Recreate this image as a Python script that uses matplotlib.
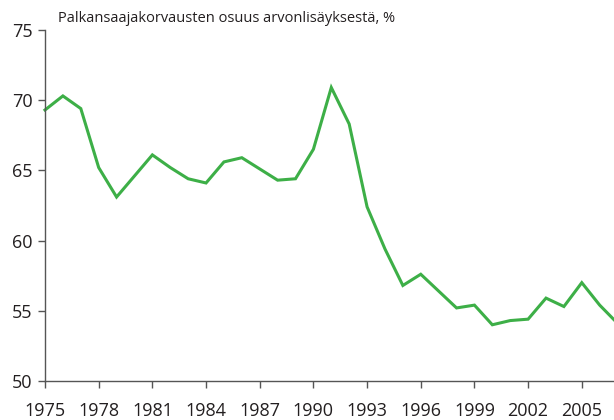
import matplotlib
matplotlib.use("Agg")
import matplotlib.pyplot as plt

# data
years = list(range(1975, 2008))
share = [69.3, 70.3, 69.4, 65.2, 63.1, 64.6, 66.1, 65.2, 64.4, 64.1,
         65.6, 65.9, 65.1, 64.3, 64.4, 66.5, 70.9, 68.3, 62.4, 59.4,
         56.8, 57.6, 56.4, 55.2, 55.4, 54.0, 54.3, 54.4, 55.9, 55.3,
         57.0, 55.4, 54.1]
xticks = list(range(1975, 2006, 3))
yticks = [50, 55, 60, 65, 70, 75]
title = "Palkansaajakorvausten osuus arvonlisäyksestä, %"

plt.rcParams['font.family'] = ['Open Sans', 'DejaVu Sans']

fig = plt.figure(figsize=(6.14, 4.2), dpi=100)
ax = fig.add_axes([0.0733, 0.093, 0.9267, 0.8357])

ax.plot(years, share, color="#3daf47", linewidth=2.2, solid_joinstyle="miter", clip_on=False)

ax.set_xlim(1975, 2006.8)
ax.set_ylim(50, 75)
ax.set_xticks(xticks)
ax.set_yticks(yticks)

for side in ("top", "right"):
    ax.spines[side].set_visible(False)
for side in ("left", "bottom"):
    ax.spines[side].set_color("#555555")
    ax.spines[side].set_linewidth(1.0)

ax.tick_params(axis="both", direction="out", length=5, width=1.0,
               color="#555555", labelsize=13, labelcolor="#231f20")
ax.tick_params(axis="x", pad=10)
ax.tick_params(axis="y", pad=4)

fig.text(0.094, 0.957, title, fontsize=10.5, color="#231f20", va="center", ha="left")

fig.savefig("out.png", dpi=100)
